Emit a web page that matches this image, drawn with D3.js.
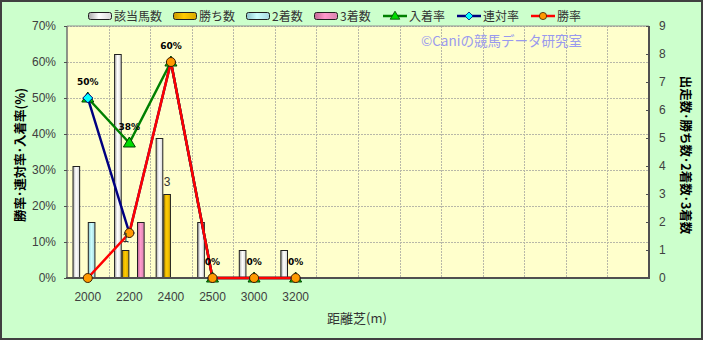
<!DOCTYPE html>
<html><head><meta charset="utf-8">
<script src="https://cdn.jsdelivr.net/npm/d3@7"></script>
<style>
body{margin:0;padding:0;background:#fff;}
svg{display:block;font-family:"Liberation Sans","Noto Sans CJK JP",sans-serif;}
</style></head>
<body>
<svg id="chart" width="703" height="340"></svg>
<script>
// ---- data ----
const categories = ["2000","2200","2400","2500","3000","3200"];
const slotCount = 14;
const runners   = [4, 8, 5, 2, 1, 1];   // 該当馬数
const wins      = [0, 1, 3, 0, 0, 0];   // 勝ち数
const seconds   = [2, 0, 0, 0, 0, 0];   // 2着数
const thirds    = [0, 2, 0, 0, 0, 0];   // 3着数
const placeRate = [50, 37.5, 60, 0, 0, 0]; // 入着率
const rentaiRate= [50, 12.5, 60, 0, 0, 0]; // 連対率
const winRate   = [0, 12.5, 60, 0, 0, 0];  // 勝率
const leftTicks = [0,10,20,30,40,50,60,70];
const rightTicks= [0,1,2,3,4,5,6,7,8,9];

const W = 703, H = 340;
const m = {l:67, r:649, t:26, b:278};
const svg = d3.select("#chart");
const defs = svg.append("defs");

function grad(id, c0, c1, c2){
  const g = defs.append("linearGradient").attr("id",id).attr("x1","0").attr("x2","1").attr("y1","0").attr("y2","0");
  g.append("stop").attr("offset","0%").attr("stop-color",c0);
  g.append("stop").attr("offset","45%").attr("stop-color",c1);
  g.append("stop").attr("offset","100%").attr("stop-color",c2);
}
grad("gWhite","#a8a8a8","#ffffff","#d8d8d8");
grad("gGold","#c89800","#ffcc00","#d8a800");
grad("gBlue","#8cc4cc","#ccffff","#a8d8e0");
grad("gPink","#c06894","#ff99cc","#d884b0");

// background
svg.append("rect").attr("x",1).attr("y",1).attr("width",W-2).attr("height",H-2)
  .attr("fill","#ccffcc").attr("stroke","#404040").attr("stroke-width",2);
svg.append("rect").attr("x",m.l).attr("y",m.t).attr("width",m.r-m.l).attr("height",m.b-m.t)
  .attr("fill","#ffffcc");

// scales
const x = d3.scaleBand().domain(d3.range(slotCount)).range([m.l,m.r]).padding(0);
const yL = d3.scaleLinear().domain([0,70]).range([m.b,m.t]);
const yR = d3.scaleLinear().domain([0,9]).range([m.b,m.t]);
const barSeries = [
  {name:"該当馬数", vals:runners, fill:"url(#gWhite)"},
  {name:"勝ち数", vals:wins, fill:"url(#gGold)"},
  {name:"2着数", vals:seconds, fill:"url(#gBlue)"},
  {name:"3着数", vals:thirds, fill:"url(#gPink)"}
];
const xIn = d3.scaleBand().domain(barSeries.map(d=>d.name)).range([0,x.bandwidth()]).paddingInner(0).paddingOuter(0.72);

// grid
const grid = svg.append("g").attr("stroke","#b8b8a8").attr("stroke-width",1).attr("stroke-dasharray","2,1");
leftTicks.slice(1).forEach(t=>{
  grid.append("line").attr("x1",m.l).attr("x2",m.r).attr("y1",Math.round(yL(t))+0.5).attr("y2",Math.round(yL(t))+0.5);
});
d3.range(1,slotCount).forEach(i=>{
  const xx = Math.round(x(i))+0.5;
  grid.append("line").attr("x1",xx).attr("x2",xx).attr("y1",m.t).attr("y2",m.b);
});

// bars
const bars = svg.append("g");
barSeries.forEach(s=>{
  bars.selectAll(null).data(s.vals.map((v,i)=>({v,i}))).enter()
    .filter(d=>d.v>0)
    .append("rect")
    .attr("x",d=>x(d.i)+xIn(s.name)+0.5)
    .attr("y",d=>yR(d.v)+0.5)
    .attr("width",xIn.bandwidth()-1)
    .attr("height",d=>yR(0)-yR(d.v)-1)
    .attr("fill",s.fill).attr("stroke","#202020").attr("stroke-width",1);
});

// axes frame
svg.append("line").attr("x1",m.l).attr("x2",m.l).attr("y1",m.t).attr("y2",m.b).attr("stroke","#707070").attr("stroke-width",1.5);
svg.append("line").attr("x1",m.l).attr("x2",m.r).attr("y1",m.t).attr("y2",m.t).attr("stroke","#909090").attr("stroke-width",1);
svg.append("line").attr("x1",m.r).attr("x2",m.r).attr("y1",m.t).attr("y2",m.b+1).attr("stroke","#505050").attr("stroke-width",2);
svg.append("line").attr("x1",m.l-1).attr("x2",m.r+1).attr("y1",m.b).attr("y2",m.b).attr("stroke","#505050").attr("stroke-width",2);

// left axis
const axL = svg.append("g").attr("transform",`translate(${m.l},0)`)
  .call(d3.axisLeft(yL).tickValues(leftTicks).tickFormat(d=>d+"%").tickSize(3).tickPadding(8));
axL.select(".domain").remove();
axL.selectAll("line").attr("stroke","#505050");
axL.selectAll("text").attr("font-size",12).attr("fill","#404040").attr("font-family","Liberation Sans, sans-serif");

// right axis
const axR = svg.append("g").attr("transform",`translate(${m.r},0)`)
  .call(d3.axisRight(yR).tickValues(rightTicks).tickFormat(d3.format("d")).tickSize(-3).tickPadding(10));
axR.select(".domain").remove();
axR.selectAll("line").attr("stroke","#505050");
axR.selectAll("text").attr("font-size",12).attr("fill","#404040").attr("font-family","Liberation Sans, sans-serif");

// bottom axis
const axB = svg.append("g").attr("transform",`translate(0,${m.b})`)
  .call(d3.axisBottom(x).tickValues(d3.range(categories.length)).tickFormat(i=>categories[i]).tickSize(0).tickPadding(14));
axB.select(".domain").remove();
axB.selectAll("text").attr("font-size",12).attr("fill","#404040").attr("font-family","Liberation Sans, sans-serif");

// lines
const cx = i => x(i)+x.bandwidth()/2;
const lineGen = d3.line().x((d,i)=>cx(i)).y(d=>yL(d));
const lineSeries = [
  {name:"入着率", vals:placeRate, color:"#008000", marker:"tri"},
  {name:"連対率", vals:rentaiRate, color:"#000080", marker:"dia"},
  {name:"勝率", vals:winRate, color:"#ff0000", marker:"cir"}
];
function drawMarker(g, type, px, py){
  if(type==="tri"){
    g.append("path").attr("d",`M${px},${py-6}L${px+6},${py+4}L${px-6},${py+4}Z`)
      .attr("fill","#00dd00").attr("stroke","#004000").attr("stroke-width",1);
  } else if(type==="dia"){
    g.append("path").attr("d",`M${px},${py-5}L${px+5},${py}L${px},${py+5}L${px-5},${py}Z`)
      .attr("fill","#00ffff").attr("stroke","#000080").attr("stroke-width",1);
  } else {
    g.append("circle").attr("cx",px).attr("cy",py).attr("r",4.5)
      .attr("fill","#ff9900").attr("stroke","#402000").attr("stroke-width",1);
  }
}
const linesG = svg.append("g");
lineSeries.forEach(s=>{
  linesG.append("path").datum(s.vals).attr("d",lineGen).attr("fill","none")
    .attr("stroke",s.color).attr("stroke-width",2.5).attr("stroke-linejoin","round");
});
lineSeries.forEach(s=>{
  s.vals.forEach((v,i)=>drawMarker(linesG, s.marker, cx(i), yL(v)));
});

// data labels: 入着率
svg.append("g").selectAll("text").data(placeRate).enter().append("text")
  .attr("x",(d,i)=>cx(i)).attr("y",d=>yL(d)-13)
  .attr("text-anchor","middle").attr("font-size",9).attr("font-weight","bold")
  .attr("font-family","DejaVu Sans, sans-serif").attr("fill","#000")
  .text(d=>Math.round(d)+"%");
// data labels: 勝ち数
svg.append("g").selectAll("text").data(wins.map((v,i)=>({v,i})).filter(d=>d.v>0)).enter().append("text")
  .attr("x",d=>x(d.i)+xIn("勝ち数")+xIn.bandwidth()/2).attr("y",d=>yR(d.v)-8)
  .attr("text-anchor","middle").attr("font-size",12).attr("fill","#333")
  .text(d=>d.v);

// watermark
svg.append("text").attr("x",421).attr("y",45.5).attr("font-size",13.5).attr("fill","#9999ee")
  .attr("font-family","Noto Sans CJK JP, sans-serif").text("©Caniの競馬データ研究室");

// axis titles
svg.append("text").attr("transform","translate(25,155) rotate(-90)").attr("text-anchor","middle")
  .attr("font-size",12.5).attr("font-weight","bold").attr("fill","#000")
  .attr("font-family","Noto Sans CJK JP, sans-serif").text("勝率･連対率･入着率(%)");
svg.append("text").attr("transform","translate(681,155) rotate(90)").attr("text-anchor","middle")
  .attr("font-size",12.5).attr("font-weight","bold").attr("fill","#000")
  .attr("font-family","Noto Sans CJK JP, sans-serif").text("出走数･勝ち数･2着数･3着数");
svg.append("text").attr("x",357).attr("y",323).attr("text-anchor","middle")
  .attr("font-size",13).attr("fill","#333")
  .attr("font-family","Noto Sans CJK JP, sans-serif").text("距離芝(m)");

// legend
const legendItems = [
  {name:"該当馬数", type:"bar", fill:"url(#gWhite)", x:88},
  {name:"勝ち数", type:"bar", fill:"url(#gGold)", x:173},
  {name:"2着数", type:"bar", fill:"url(#gBlue)", x:246},
  {name:"3着数", type:"bar", fill:"url(#gPink)", x:314},
  {name:"入着率", type:"line", color:"#008000", marker:"tri", x:383},
  {name:"連対率", type:"line", color:"#000080", marker:"dia", x:457},
  {name:"勝率", type:"line", color:"#ff0000", marker:"cir", x:531}
];
const lg = svg.append("g");
legendItems.forEach(it=>{
  const ly = 16;
  if(it.type==="bar"){
    lg.append("rect").attr("x",it.x+0.5).attr("y",ly-3.5).attr("width",23).attr("height",7).attr("rx",2)
      .attr("fill",it.fill).attr("stroke","#202020").attr("stroke-width",1);
  } else {
    lg.append("line").attr("x1",it.x).attr("x2",it.x+24).attr("y1",ly).attr("y2",ly)
      .attr("stroke",it.color).attr("stroke-width",2.5);
    const g2 = lg.append("g").attr("transform",`translate(${it.x+12},${ly}) scale(0.8)`);
    drawMarker(g2, it.marker, 0, 0);
  }
  lg.append("text").attr("x",it.x+26).attr("y",ly+4.5).attr("font-size",12).attr("fill","#333")
    .attr("font-family","Noto Sans CJK JP, sans-serif").text(it.name);
});
</script>
</body></html>
